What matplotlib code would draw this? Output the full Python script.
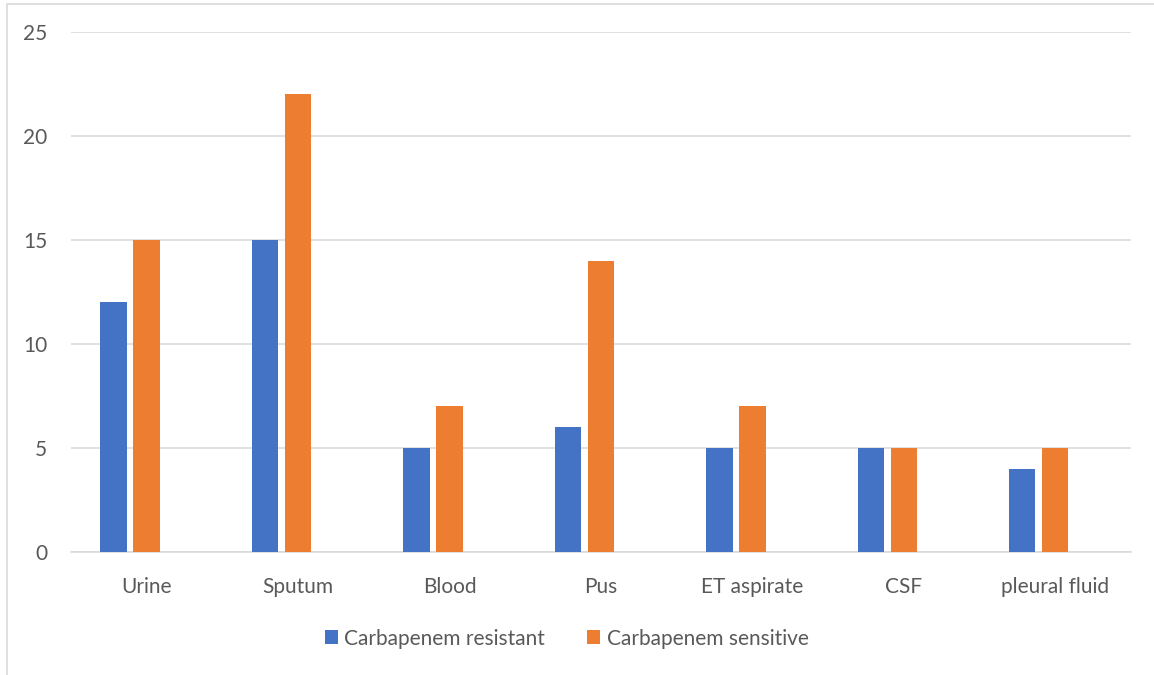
import numpy as np
import matplotlib
matplotlib.use("Agg")
import matplotlib.pyplot as plt
from matplotlib.patches import Rectangle

categories = ["Urine", "Sputum", "Blood", "Pus", "ET aspirate", "CSF", "pleural fluid"]
resistant = [12, 15, 5, 6, 5, 5, 4]
sensitive = [15, 22, 7, 14, 7, 5, 5]

plt.rcParams['font.family'] = ['Lato', 'DejaVu Sans']

fig = plt.figure(figsize=(11.54, 6.75), dpi=100)
ax = fig.add_axes([0.0615, 0.1822, 0.9185, 0.7704])

x = np.arange(len(categories))
w = 0.175
step = 0.218
# grouped as if for three series, third slot stays empty
ax.bar(x - step, resistant, w, color="#4472C4", label="Carbapenem resistant", zorder=3)
ax.bar(x, sensitive, w, color="#ED7D31", label="Carbapenem sensitive", zorder=3)

ax.set_xlim(-0.5, len(categories) - 0.5)
ax.set_ylim(0, 25)
ax.set_yticks(range(0, 26, 5))
ax.set_xticks(x)
ax.set_xticklabels(categories)
ax.grid(axis="y", color="#D9D9D9", linewidth=1.1, zorder=0)
for s in ["top", "right", "left"]:
    ax.spines[s].set_visible(False)
ax.spines["bottom"].set_color("#D9D9D9")
ax.spines["bottom"].set_linewidth(1.1)
ax.tick_params(axis="both", length=0, labelsize=15, labelcolor="#595959")
ax.tick_params(axis="y", pad=17)
ax.tick_params(axis="x", pad=18)

leg = fig.legend(loc="center", bbox_to_anchor=(0.491, 0.054), ncol=2, frameon=False,
                 fontsize=15, handlelength=0.65, handleheight=0.65, handletextpad=0.3,
                 columnspacing=2.0)
for t in leg.get_texts():
    t.set_color("#595959")

fig.patches.append(Rectangle((0.006, -0.01), 1.2, 1.004, transform=fig.transFigure,
                             fill=False, edgecolor="#D9D9D9", linewidth=1.2))

fig.savefig("out.png", dpi=100)
